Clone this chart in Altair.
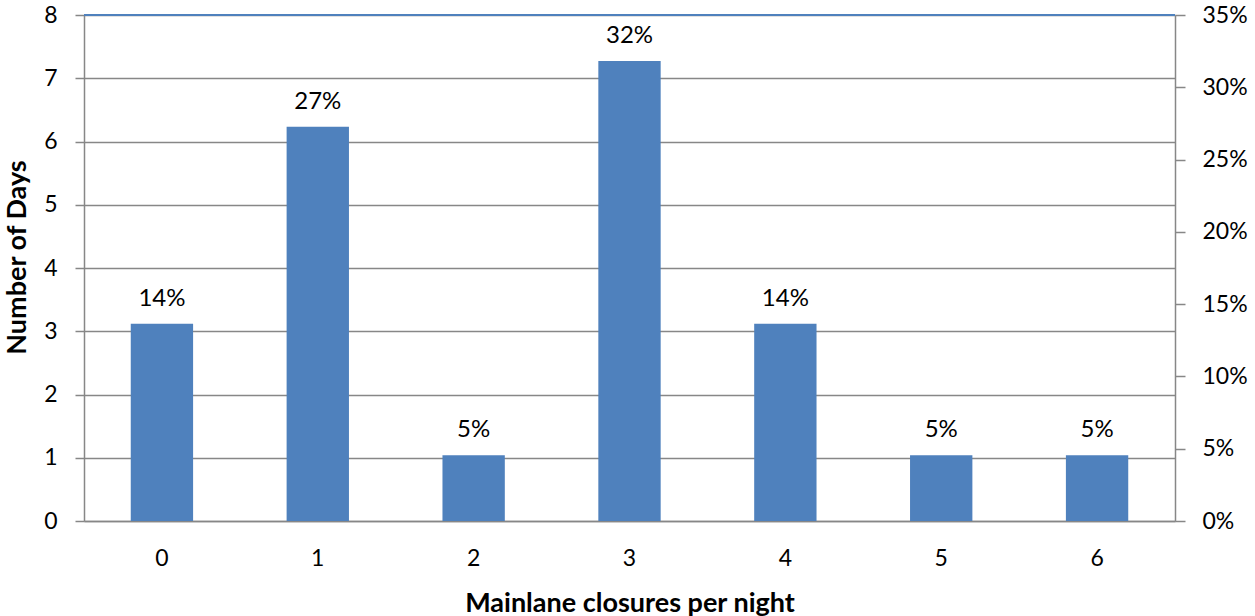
import altair as alt
import pandas as pd

closures = ["0", "1", "2", "3", "4", "5", "6"]
days = [3, 6, 1, 7, 3, 1, 1]
total_days = sum(days)
pct = [d / total_days for d in days]
pct_labels = [f"{round(p * 100)}%" for p in pct]

df = pd.DataFrame({"closures": closures, "days": days, "pct": pct, "label": pct_labels})

FONT = "Lato"
BLUE = "#4F81BD"
GRAY = "#878787"
W, H = 1091, 506
FS = 23

x_enc = alt.X(
    "closures:N",
    sort=closures,
    scale=alt.Scale(paddingInner=0.6, paddingOuter=0.3),
    axis=alt.Axis(
        title="Mainlane closures per night",
        labelAngle=0,
        ticks=False,
        labelPadding=26,
        titlePadding=20,
        titleFontSize=27,
        domainColor=GRAY,
        domainWidth=1.5,
    ),
)

days_layer = alt.Chart(df).mark_point(opacity=0).encode(
    x=x_enc,
    y=alt.Y(
        "days:Q",
        scale=alt.Scale(domain=[0, 8], nice=False),
        axis=alt.Axis(
            title="Number of Days",
            orient="left",
            values=list(range(0, 9)),
            grid=True,
            gridColor=GRAY,
            gridWidth=1.5,
            tickSize=9,
            tickColor=GRAY,
            tickWidth=1.5,
            domainColor=GRAY,
            domainWidth=1.5,
            labelPadding=18,
            titlePadding=12,
            titleFontSize=27,
            titleY=242,
        ),
    ),
)

top_line = alt.Chart(df).mark_rule(color=BLUE, strokeWidth=2).encode(
    x=alt.value(0), x2=alt.value(W), y=alt.value(0)
)

bars = alt.Chart(df).mark_bar(color=BLUE).encode(
    x=x_enc,
    y=alt.Y(
        "pct:Q",
        scale=alt.Scale(domain=[0, 0.35], nice=False),
        axis=alt.Axis(
            title=None,
            orient="right",
            format=".0%",
            values=[0, 0.05, 0.10, 0.15, 0.20, 0.25, 0.30, 0.35],
            grid=False,
            tickSize=10,
            tickColor=GRAY,
            tickWidth=1.5,
            domainColor=GRAY,
            domainWidth=1.5,
            labelPadding=17,
        ),
    ),
)

labels = alt.Chart(df).mark_text(baseline="bottom", dy=-13, fontSize=24, font=FONT, color="black").encode(
    x=x_enc,
    y=alt.Y("pct:Q"),
    text="label:N",
)

chart = (
    alt.layer(days_layer, top_line, alt.layer(bars, labels))
    .resolve_scale(y="independent")
    .properties(width=W, height=H, padding={"left": 84, "top": 15, "right": 80, "bottom": 95})
    .configure(font=FONT, autosize=alt.AutoSizeParams(type="none"))
    .configure_view(stroke=None)
    .configure_axis(
        labelFont=FONT,
        labelFontSize=FS,
        labelColor="black",
        titleFont=FONT,
        titleFontSize=FS,
        titleFontWeight="bold",
        titleColor="black",
    )
)

chart.save("out.html", embed_options={"renderer": "svg", "actions": False})
